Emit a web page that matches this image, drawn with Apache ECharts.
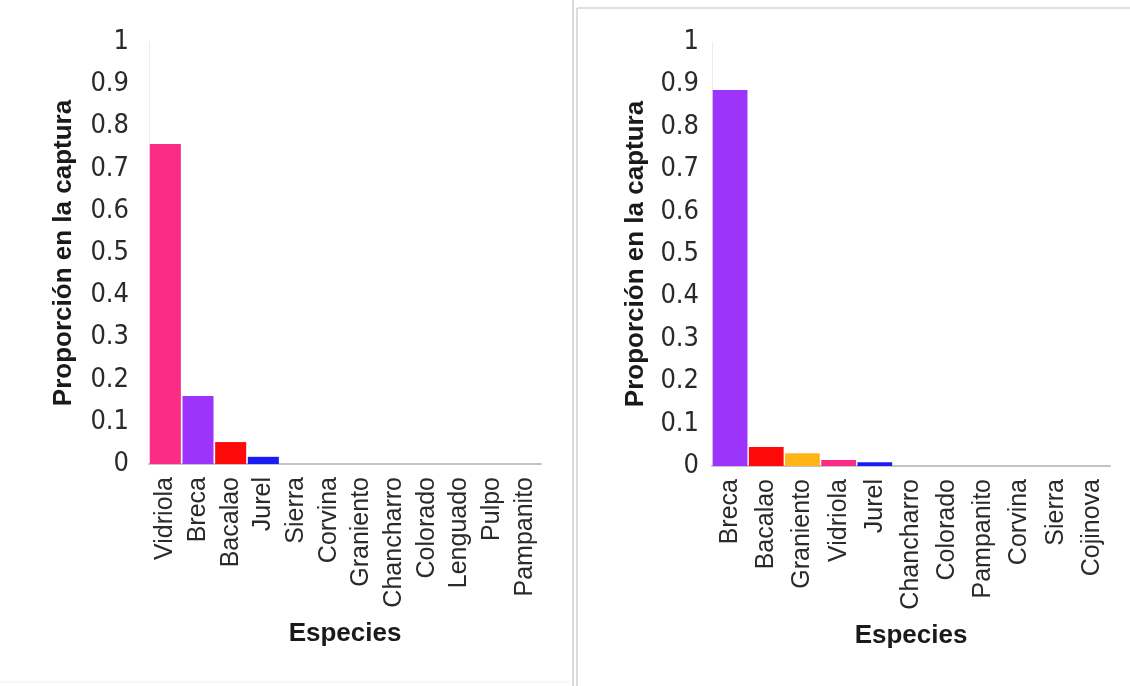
<!DOCTYPE html>
<html lang="es" style="height: 100%">
<head>
    <meta charset="UTF-8">
    <title>Proporción en la captura por especie</title>
    <script src="https://cdn.jsdelivr.net/npm/echarts@6/dist/echarts.min.js"></script>
</head>
<body style="height: 100%; margin: 0; background: #fff">
<div id="main" style="width: 1130px; height: 686px"></div>
<script>
    // panel izquierdo
    var especiesA = ['Vidriola', 'Breca', 'Bacalao', 'Jurel', 'Sierra', 'Corvina', 'Graniento',
        'Chancharro', 'Colorado', 'Lenguado', 'Pulpo', 'Pampanito'];
    var proporcionA = [0.758, 0.161, 0.052, 0.017, 0, 0, 0, 0, 0, 0, 0, 0];

    // panel derecho
    var especiesB = ['Breca', 'Bacalao', 'Graniento', 'Vidriola', 'Jurel', 'Chancharro',
        'Colorado', 'Pampanito', 'Corvina', 'Sierra', 'Cojinova'];
    var proporcionB = [0.887, 0.045, 0.030, 0.014, 0.009, 0, 0, 0, 0, 0, 0];

    var colores = {
        Vidriola: '#fb2c86',
        Breca: '#9c34fb',
        Bacalao: '#fe0a0a',
        Jurel: '#1b1bf5',
        Graniento: '#ffb418'
    };

    function barras(nombres, valores) {
        return valores.map(function (v, i) {
            return {value: v, itemStyle: {color: colores[nombres[i]] || '#999'}};
        });
    }

    var fuente = 'Liberation Sans';

    function ejeY(idx) {
        return {
            type: 'value',
            gridIndex: idx,
            min: 0,
            max: 1,
            interval: 0.1,
            name: 'Proporción en la captura',
            nameLocation: 'middle',
            nameGap: idx === 0 ? 72 : 63,
            nameTextStyle: {fontFamily: fuente, fontWeight: 'bold', fontSize: 26, color: '#1a1a1a'},
            axisLine: {show: true, lineStyle: {color: '#ececec', width: 1}},
            axisTick: {show: false},
            splitLine: {show: false},
            axisLabel: {
                margin: idx === 0 ? 20 : 13,
                fontFamily: '"Liberation Sans Narrow", "DejaVu Sans Condensed", sans-serif',
                fontSize: 27,
                color: '#2a2a2a',
                formatter: function (v) { return String(+v.toFixed(1)); }
            }
        };
    }

    function ejeX(idx, nombres) {
        return {
            type: 'category',
            gridIndex: idx,
            data: nombres,
            name: 'Especies',
            nameLocation: 'middle',
            nameGap: 157,
            nameTextStyle: {fontFamily: fuente, fontWeight: 'bold', fontSize: 26, color: '#1a1a1a'},
            axisLine: {lineStyle: {color: '#c4c4c4', width: 2}},
            axisTick: {show: false},
            axisLabel: {
                rotate: 90,
                interval: 0,
                margin: 13,
                fontFamily: fuente,
                fontSize: 25,
                color: '#2a2a2a'
            }
        };
    }

    var myoption = {
        backgroundColor: '#fff',
        animation: false,
        grid: [
            {left: 149, right: 589, top: 42, bottom: 222},
            {left: 712, right: 20, top: 42, bottom: 220}
        ],
        xAxis: [ejeX(0, especiesA), ejeX(1, especiesB)],
        yAxis: [ejeY(0), ejeY(1)],
        series: [
            {
                type: 'bar',
                xAxisIndex: 0,
                yAxisIndex: 0,
                barCategoryGap: '5%',
                data: barras(especiesA, proporcionA)
            },
            {
                type: 'bar',
                xAxisIndex: 1,
                yAxisIndex: 1,
                barCategoryGap: '4%',
                data: barras(especiesB, proporcionB)
            }
        ],
        graphic: [
            {type: 'line', shape: {x1: 573, y1: 0, x2: 573, y2: 686}, style: {stroke: '#cfcfcf', lineWidth: 1.5}},
            {type: 'line', shape: {x1: 577, y1: 8, x2: 577, y2: 686}, style: {stroke: '#cfcfcf', lineWidth: 1.5}},
            {type: 'line', shape: {x1: 577, y1: 8, x2: 1130, y2: 8}, style: {stroke: '#d4d4d4', lineWidth: 1.5}},
            {type: 'line', shape: {x1: 0, y1: 682, x2: 570, y2: 682}, style: {stroke: '#eeeeee', lineWidth: 1}}
        ]
    };

    var myChart = echarts.init(document.getElementById('main'));
    myChart.setOption(myoption);
</script>
</body>
</html>
